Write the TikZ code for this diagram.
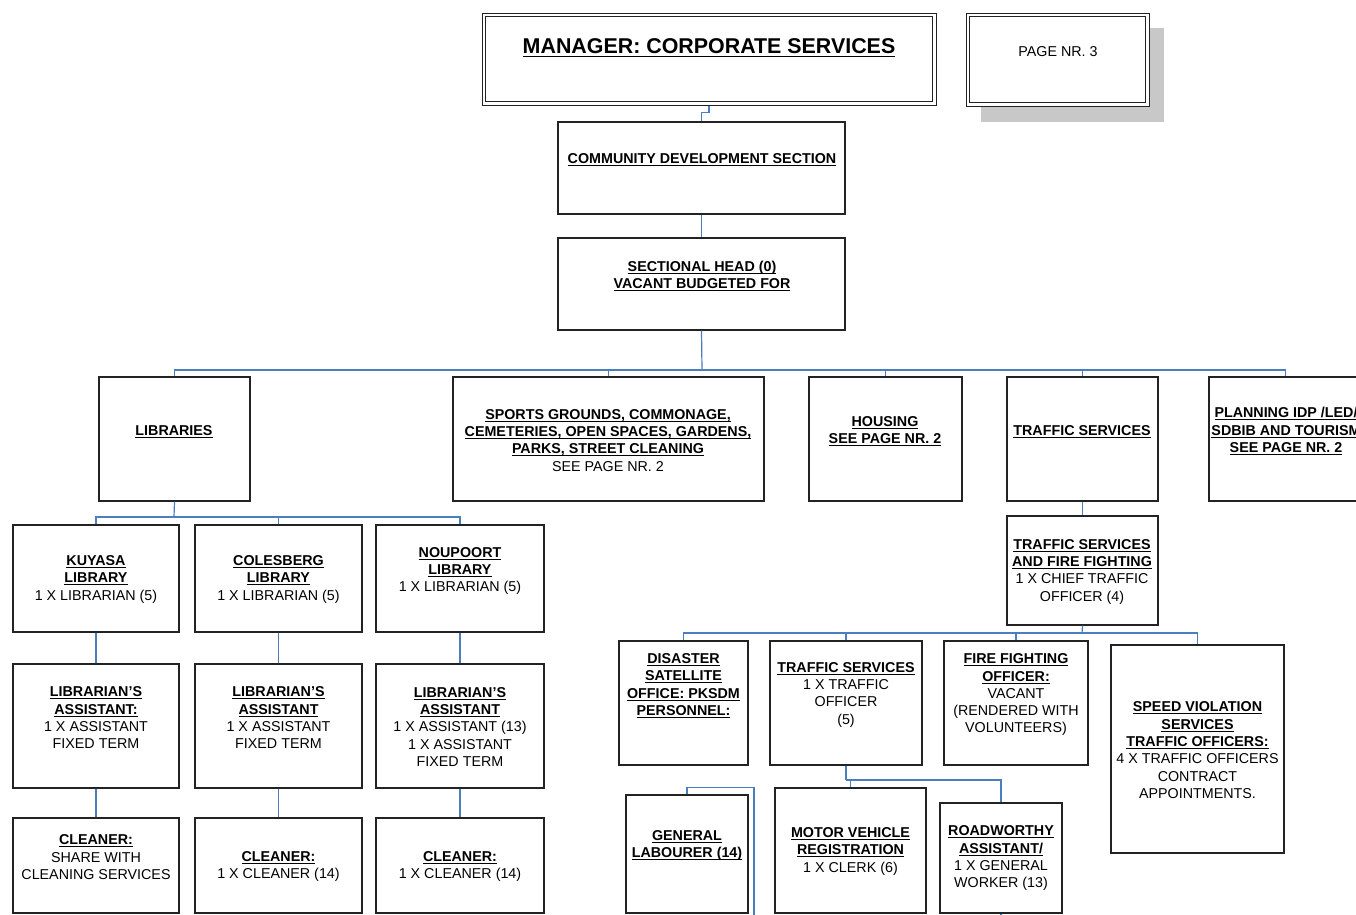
\documentclass[tikz,border=0pt]{standalone}
\usepackage{fontspec}
\setmainfont{Liberation Sans}
\usetikzlibrary{fit}
\newcommand{\myul}[3]{\setbox0\hbox{#3}\leavevmode\rlap{\vrule height -#1 depth #2 width \wd0}\box0}
\newcommand{\hd}[1]{\textbf{\myul{1.5pt}{2.4pt}{#1}}}
\definecolor{conncol}{RGB}{74,126,190}
\definecolor{boxcol}{RGB}{35,35,35}
\definecolor{shadowcol}{RGB}{200,200,200}
\tikzset{
  box/.style={draw=boxcol, line width=1.2pt, fill=white, inner sep=0pt},
  txt/.style={align=center, inner sep=0pt, yshift=-1.8pt, font=\fontsize{14.3}{17.3}\selectfont, text=black},
  conn/.style={draw=conncol, line width=1.2pt},
}
\begin{document}
\begin{tikzpicture}[x=1pt,y=-1pt]
\clip (0,0) rectangle (1356,914);
\fill[white] (0,0) rectangle (1356,914);

% ---------- top ----------
\node[box, line width=1pt, fit={(482,13) (936,105)}] (mgr) {};
\draw[boxcol, line width=1.3pt] ([shift={(4,4)}]mgr.north west) rectangle ([shift={(-4,-4)}]mgr.south east);
\node[txt, font=\fontsize{21.4}{25}\selectfont\bfseries] (mgr-t) at (709,46)
  {\myul{2pt}{3.4pt}{MANAGER: CORPORATE SERVICES}};

\fill[shadowcol] (981,28) rectangle (1164,122);
\node[box, line width=1pt, fit={(966,13) (1149,106)}] (page) {};
\draw[boxcol, line width=1.3pt] ([shift={(4,4)}]page.north west) rectangle ([shift={(-4,-4)}]page.south east);
\node[txt] (page-t) at (1058,50) {PAGE NR. 3};

\node[box, fit={(558,122) (845,214)}] (comm) {};
\node[txt] (comm-t) at (702,158) {\hd{COMMUNITY DEVELOPMENT SECTION}};

\node[box, fit={(558,238) (845,330)}] (sect) {};
\node[txt] (sect-t) at (702,274.5) {\hd{SECTIONAL HEAD (0)}\\\hd{VACANT BUDGETED FOR}};

% ---------- second row ----------
\node[box, fit={(99,377) (250,501)}] (lib) {};
\node[txt] (lib-t) at (174,430) {\hd{LIBRARIES}};

\node[box, fit={(453,377) (764,501)}] (sports) {};
\node[txt] (sports-t) at (608,438.5) {\hd{SPORTS GROUNDS, COMMONAGE,}\\\hd{CEMETERIES, OPEN SPACES, GARDENS,}\\\hd{PARKS, STREET CLEANING}\\SEE PAGE NR. 2};

\node[box, fit={(809,377) (962,501)}] (housing) {};
\node[txt] (housing-t) at (885,429.5) {\hd{HOUSING}\\\hd{SEE PAGE NR. 2}};

\node[box, fit={(1007,377) (1158,501)}] (traffic) {};
\node[txt] (traffic-t) at (1082,430) {\hd{TRAFFIC SERVICES}};

\node[box, fit={(1209,377) (1362,501)}] (plan) {};
\node[txt] (plan-t) at (1286,429.5) {\hd{PLANNING IDP /LED/}\\\hd{SDBIB AND TOURISM}\\\hd{SEE PAGE NR. 2}};

% ---------- libraries ----------
\node[box, fit={(13,525) (179,632)}] (kuy) {};
\node[txt] (kuy-t) at (96,577.5) {\hd{KUYASA}\\\hd{LIBRARY}\\1 X LIBRARIAN (5)};
\node[box, fit={(195,525) (362,632)}] (col) {};
\node[txt] (col-t) at (278.5,577.5) {\hd{COLESBERG}\\\hd{LIBRARY}\\1 X LIBRARIAN (5)};
\node[box, fit={(376,525) (544,632)}] (nou) {};
\node[txt] (nou-t) at (460,569) {\hd{NOUPOORT}\\\hd{LIBRARY}\\1 X LIBRARIAN (5)};

\node[box, fit={(13,664) (179,788)}] (kuya) {};
\node[txt] (kuya-t) at (96,716) {\hd{LIBRARIAN’S}\\\hd{ASSISTANT:}\\1 X ASSISTANT\\FIXED TERM};
\node[box, fit={(195,664) (362,788)}] (cola) {};
\node[txt] (cola-t) at (278.5,716) {\hd{LIBRARIAN’S}\\\hd{ASSISTANT}\\1 X ASSISTANT\\FIXED TERM};
\node[box, fit={(376,664) (544,788)}] (noua) {};
\node[txt] (noua-t) at (460,725) {\hd{LIBRARIAN’S}\\\hd{ASSISTANT}\\1 X ASSISTANT (13)\\1 X ASSISTANT\\FIXED TERM};

\node[box, fit={(13,818) (179,913)}] (kuyc) {};
\node[txt] (kuyc-t) at (96,855.5) {\hd{CLEANER:}\\SHARE WITH\\CLEANING SERVICES};
\node[box, fit={(195,818) (362,913)}] (colc) {};
\node[txt] (colc-t) at (278.5,864.5) {\hd{CLEANER:}\\1 X CLEANER (14)};
\node[box, fit={(376,818) (544,913)}] (nouc) {};
\node[txt] (nouc-t) at (460,864.5) {\hd{CLEANER:}\\1 X CLEANER (14)};

% ---------- traffic ----------
\node[box, fit={(1007,516) (1158,625)}] (tsff) {};
\node[txt] (tsff-t) at (1082,570) {\hd{TRAFFIC SERVICES}\\\hd{AND FIRE FIGHTING}\\1 X CHIEF TRAFFIC\\OFFICER (4)};

\node[box, fit={(619,641) (748,765)}] (dis) {};
\node[txt] (dis-t) at (683.5,684) {\hd{DISASTER}\\\hd{SATELLITE}\\\hd{OFFICE: PKSDM}\\\hd{PERSONNEL:}};
\node[box, fit={(770,641) (922,765)}] (tso) {};
\node[txt] (tso-t) at (846,693) {\hd{TRAFFIC SERVICES}\\1 X TRAFFIC\\OFFICER\\(5)};
\node[box, fit={(944,641) (1088,765)}] (fire) {};
\node[txt] (fire-t) at (1016,693) {\hd{FIRE FIGHTING}\\\hd{OFFICER:}\\VACANT\\(RENDERED WITH\\VOLUNTEERS)};
\node[box, fit={(1111,645) (1284,853)}] (speed) {};
\node[txt] (speed-t) at (1197.5,748.5) {\hd{SPEED VIOLATION}\\\hd{SERVICES}\\\hd{TRAFFIC OFFICERS:}\\4 X TRAFFIC OFFICERS\\CONTRACT\\APPOINTMENTS.};

\node[box, fit={(626,795) (748,913)}] (gl) {};
\node[txt] (gl-t) at (687,843.5) {\hd{GENERAL}\\\hd{LABOURER (14)}};
\node[box, fit={(775,788) (926,913)}] (motor) {};
\node[txt] (motor-t) at (850.5,849.5) {\hd{MOTOR VEHICLE}\\\hd{REGISTRATION}\\1 X CLERK (6)};
\node[box, fit={(940,803) (1062,913)}] (road) {};
\node[txt] (road-t) at (1001,856.5) {\hd{ROADWORTHY}\\\hd{ASSISTANT/}\\1 X GENERAL\\WORKER (13)};

% ---------- connectors ----------
\coordinate (bus1) at (702,370);
\coordinate (libbus) at (174,517);
\coordinate (tbus) at (1082,633);
\coordinate (tsobus) at (846,780);
\coordinate (glend) at (754,930);
\coordinate (rwend) at (1001,930);

\draw[conn] (mgr.south) -- ++(0,7) -| (comm.north);
\draw[conn] (comm.south) -- (sect.north);
\draw[conn] (sect.south) -- (bus1);
\foreach \n in {lib,sports,housing,traffic,plan} \draw[conn] (bus1) -| (\n.north);

\draw[conn] (lib.south) -- (libbus);
\foreach \n in {kuy,col,nou} \draw[conn] (libbus) -| (\n.north);
\draw[conn] (kuy.south) -- (kuya.north);
\draw[conn] (col.south) -- (cola.north);
\draw[conn] (nou.south) -- (noua.north);
\draw[conn] (kuya.south) -- (kuyc.north);
\draw[conn] (cola.south) -- (colc.north);
\draw[conn] (noua.south) -- (nouc.north);

\draw[conn] (traffic.south) -- (tsff.north);
\draw[conn] (tsff.south) -- (tbus);
\foreach \n in {dis,tso,fire,speed} \draw[conn] (tbus) -| (\n.north);

\draw[conn] (tso.south) -- (tsobus);
\draw[conn] (tsobus) -| (road.north);
\draw[conn] (tsobus) -| (motor.north);

\draw[conn] (gl.north) -- ++(0,-7) -| (glend);
\draw[conn] (road.south) -- (rwend);
\end{tikzpicture}
\end{document}
